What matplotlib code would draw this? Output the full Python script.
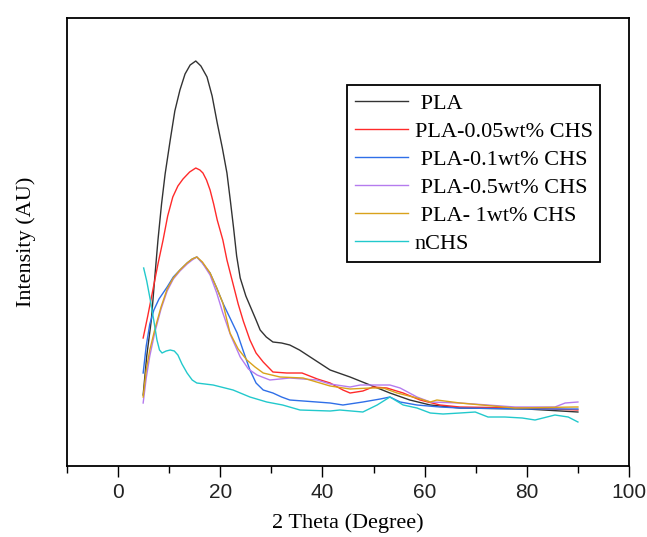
import matplotlib
matplotlib.use("Agg")
import matplotlib.pyplot as plt
from matplotlib.ticker import MultipleLocator

# --------------------
# values (intensity in arbitrary units)

pla_x = [4.9, 5.6, 6.5, 7.2, 7.8, 8.5, 9.2, 10.2, 11.1, 12.1, 13.1, 14.1, 15.2, 16.2, 17.4,
         18.4, 19.4, 20.4, 21.3, 22.0, 22.6, 23.2, 23.9, 25.0, 26.0, 27.0, 27.8, 29.0,
         30.3, 32.0, 33.6, 35.5, 37.6, 41.5, 45.4, 49.3, 53.2, 57.1, 61.1, 66.9, 80.0, 90.0]
pla_y = [71, 110, 146, 190, 226, 262, 292, 326, 355, 376, 392, 401, 405, 400, 389,
         370, 343, 318, 293, 264, 238, 210, 188, 170, 158, 146, 136, 129,
         124, 123, 121, 116, 109, 96, 89, 81, 73, 66, 61, 58, 57, 54]

pla005_x = [4.9, 5.8, 6.8, 7.8, 8.8, 9.7, 10.7, 11.7, 12.7, 14.0, 15.2, 16.0, 16.6, 17.3,
            18.0, 18.7, 19.4, 20.5, 21.3, 22.5, 23.5, 24.5, 25.8, 27.0, 28.4, 30.3, 33.0,
            36.0, 39.0, 41.5, 44.0, 45.4, 47.9, 49.9, 52.6, 55.8, 59.1, 63.0, 66.9, 80.0,
            90.0]
pla005_y = [128, 150, 176, 202, 226, 250, 269, 280, 287, 294, 298, 296, 293, 286,
            276, 262, 246, 226, 206, 182, 162, 145, 126, 113, 104, 94, 93,
            93, 87, 83, 76, 73, 75, 79, 78, 73, 66, 61, 59, 58,
            56]

pla01_x = [4.9, 5.5, 6.2, 7.0, 8.0, 9.6, 10.8, 12.1, 13.5, 14.5, 15.4, 16.5, 18.0, 19.3,
           20.5, 21.9, 23.3, 24.5, 25.8, 27.0, 28.4, 30.3, 32.0, 33.6, 38.9, 41.5, 44.0,
           47.9, 51.3, 53.2, 55.2, 58.5, 63.0, 66.9, 80.0, 90.0]
pla01_y = [93, 120, 142, 156, 167, 179, 189, 196, 203, 207, 209, 203, 193, 178,
           163, 148, 133, 115, 96, 83, 76, 73, 69, 66, 64, 63, 61,
           64, 67, 69, 64, 61, 59, 58, 57, 57]

pla05_x = [4.9, 5.5, 6.2, 7.2, 8.4, 9.6, 10.8, 12.1, 13.5, 14.5, 15.4, 16.5, 18.0, 19.3,
           20.5, 22.0, 23.9, 25.5, 27.2, 29.7, 33.6, 38.9, 41.5, 45.4, 47.4, 53.2, 55.2,
           58.5, 61.1, 66.9, 77.7, 85.5, 87.5, 90.0]
pla05_y = [63, 88, 110, 134, 157, 175, 187, 195, 202, 206, 209, 203, 191, 173,
           153, 131, 109, 97, 91, 86, 88, 86, 82, 79, 81, 81, 78,
           69, 64, 63, 59, 59, 63, 64]

pla1_x = [4.9, 5.5, 6.2, 7.2, 8.4, 9.6, 10.8, 12.1, 13.5, 14.5, 15.4, 16.5, 18.0, 19.3,
          20.5, 21.9, 23.5, 25.2, 26.8, 28.4, 31.7, 36.2, 41.5, 45.4, 49.3, 51.9, 54.6,
          58.5, 61.1, 62.4, 66.9, 77.7, 89.4, 90.0]
pla1_y = [69, 96, 116, 137, 159, 177, 188, 196, 203, 207, 209, 204, 193, 178,
          163, 133, 117, 106, 99, 93, 89, 88, 80, 77, 78, 78, 73,
          68, 64, 66, 63, 58, 59, 59]

nchs_x = [5.0, 5.6, 6.3, 7.0, 7.6, 8.1, 8.6, 9.4, 10.2, 11.0, 11.7, 12.5, 13.5, 14.5, 15.4,
          18.6, 22.5, 25.8, 29.1, 32.2, 35.6, 41.5, 43.4, 47.9, 50.7, 53.2, 55.8, 58.5,
          61.1, 63.6, 66.9, 69.9, 72.4, 75.7, 79.1, 81.6, 85.5, 88.1, 90.0]
nchs_y = [198, 185, 166, 145, 126, 116, 113, 115, 116, 115, 111, 102, 93, 86, 83,
          81, 76, 69, 64, 61, 56, 55, 56, 54, 61, 69, 61, 58,
          53, 52, 53, 54, 49, 49, 48, 46, 51, 49, 44]

labels = [" PLA", "PLA-0.05wt% CHS", " PLA-0.1wt% CHS", " PLA-0.5wt% CHS",
          " PLA- 1wt% CHS", "nCHS"]
colors = ["#333333", "#ff2a2a", "#2f6fe8", "#b57bee", "#d9a21b", "#22c9cc"]

# --------------------

fig = plt.figure(figsize = (6.47, 5.37), dpi = 100)
ax = fig.add_axes([0.1036, 0.1322, 0.8686, 0.8343])

series = [(pla_x, pla_y), (pla005_x, pla005_y), (pla01_x, pla01_y),
          (pla05_x, pla05_y), (pla1_x, pla1_y), (nchs_x, nchs_y)]
for (xs, ys), lab, c in zip(series, labels, colors):
    ax.plot(xs, ys, color = c, linewidth = 1.0, label = lab)

ax.set_xlim(-10, 100)
ax.set_ylim(0, 448)
ax.xaxis.set_major_locator(MultipleLocator(20))
ax.xaxis.set_minor_locator(MultipleLocator(10))
ax.set_yticks([])
ax.tick_params(axis = "x", which = "major", direction = "out", length = 8, width = 1.0, pad = 4)
ax.tick_params(axis = "x", which = "minor", direction = "out", length = 5, width = 1.0)
for lbl in ax.get_xticklabels():
    lbl.set_fontfamily("Liberation Sans")
    lbl.set_fontsize(15)
    lbl.set_color("#222222")
for sp in ax.spines.values():
    sp.set_linewidth(1.3)

ax.set_xlabel("2 Theta (Degree)", fontfamily = "Liberation Serif", fontsize = 16, labelpad = 8)
ax.set_ylabel("Intensity (AU)", fontfamily = "Liberation Serif", fontsize = 16)
ax.yaxis.set_label_coords(-0.055, 0.5)

leg = ax.legend(loc = "upper left", bbox_to_anchor = (0.498, 0.850),
                prop = {"family": "Liberation Serif", "size": 16},
                frameon = True, fancybox = False, framealpha = 1,
                handlelength = 2.4, handletextpad = 0.3, labelspacing = 0.34,
                borderpad = 0.35, borderaxespad = 0)
leg.get_frame().set_edgecolor("black")
leg.get_frame().set_linewidth(1.3)

plt.savefig("out.png", dpi = 100)
